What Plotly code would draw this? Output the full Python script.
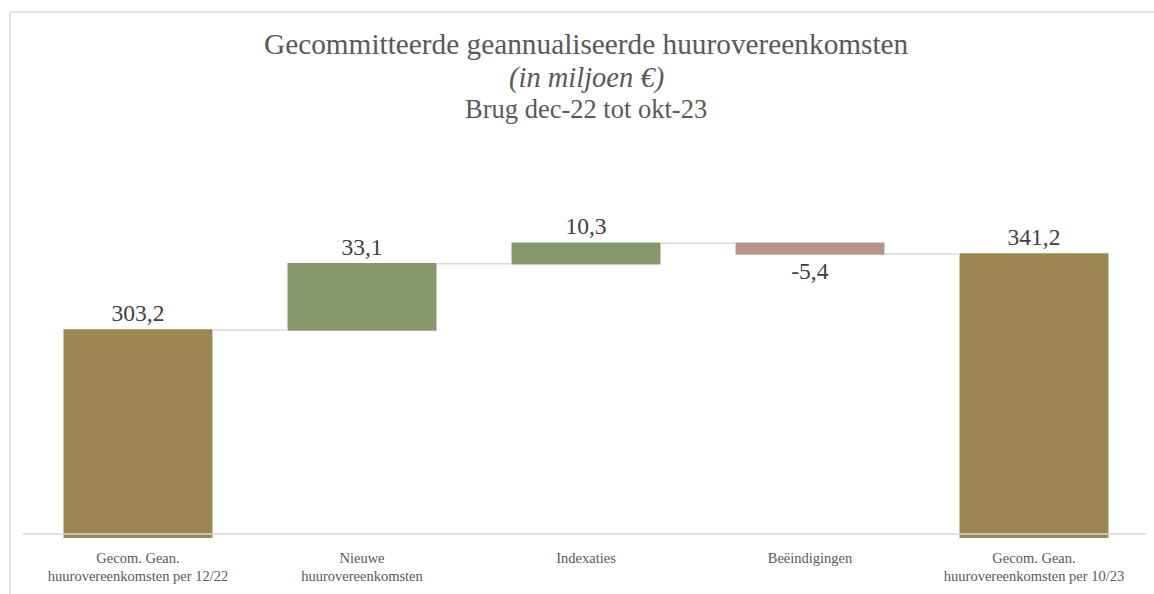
import plotly.graph_objects as go

categories = [
    "Gecom. Gean.<br>huurovereenkomsten per 12/22",
    "Nieuwe<br>huurovereenkomsten",
    "Indexaties",
    "Beëindigingen",
    "Gecom. Gean.<br>huurovereenkomsten per 10/23",
]
measures = ["absolute", "relative", "relative", "relative", "total"]
values = [303.2, 33.1, 10.3, -5.4, 0]

total_value = round(sum(values), 1)
labels = [f"{v:.1f}".replace(".", ",") for v in values[:-1]] + [f"{total_value:.1f}".replace(".", ",")]

TOTAL_C = "#9C8753"
INC_C = "#87986C"
DEC_C = "#B79487"
GRID_C = "#D9D9D9"
SERIF = "Liberation Serif"

fig = go.Figure(go.Waterfall(
    x=categories,
    y=values,
    measure=measures,
    text=labels,
    textposition="outside",
    textfont=dict(family=SERIF, size=23.5, color="#404040"),
    totals=dict(marker=dict(color=TOTAL_C, line=dict(width=0))),
    increasing=dict(marker=dict(color=INC_C, line=dict(width=0))),
    decreasing=dict(marker=dict(color=DEC_C, line=dict(width=0))),
    connector=dict(mode="between", line=dict(color=GRID_C, width=1.5)),
    cliponaxis=False,
    showlegend=False,
))

y_min, y_max = 199.2, 393.2

def py(page_y):
    return (538 - page_y) / 388

BORDER_X = -0.0143
BORDER_TOP = py(12)

fig.update_layout(
    width=1154, height=594,
    margin=dict(l=26, r=8, t=150, b=56),
    paper_bgcolor="white", plot_bgcolor="white",
    waterfallgap=0.335,
    font=dict(family=SERIF, color="#595959"),
    xaxis=dict(showgrid=False, showline=False, zeroline=False, ticks="",
               ticklabelstandoff=9,
               tickfont=dict(family=SERIF, size=14.5, color="#595959")),
    yaxis=dict(range=[y_min, y_max], visible=False, showgrid=False, zeroline=False),
    shapes=[
        dict(type="line", xref="paper", yref="y", x0=-0.003, x1=1.0,
             y0=y_min + 2, y1=y_min + 2, line=dict(color=GRID_C, width=1.5), layer="above"),
        dict(type="line", xref="paper", yref="paper", x0=BORDER_X, x1=1.02,
             y0=BORDER_TOP, y1=BORDER_TOP, line=dict(color=GRID_C, width=1.5), layer="below"),
        dict(type="line", xref="paper", yref="paper", x0=BORDER_X, x1=BORDER_X,
             y0=-0.2, y1=BORDER_TOP, line=dict(color=GRID_C, width=1.5), layer="below"),
    ],
    annotations=[
        dict(text="Gecommitteerde geannualiseerde huurovereenkomsten", xref="paper", yref="paper",
             x=0.5, y=py(44), xanchor="center", yanchor="middle", showarrow=False,
             font=dict(family=SERIF, size=29.3, color="#595959")),
        dict(text="<i>(in miljoen €)</i>", xref="paper", yref="paper",
             x=0.5, y=py(78), xanchor="center", yanchor="middle", showarrow=False,
             font=dict(family=SERIF, size=28.5, color="#595959")),
        dict(text="Brug dec-22 tot okt-23", xref="paper", yref="paper",
             x=0.5, y=py(109), xanchor="center", yanchor="middle", showarrow=False,
             font=dict(family=SERIF, size=26.5, color="#595959")),
    ],
)

fig.write_html(
    "out.html",
    config={"displayModeBar": False},
    post_script="document.body.style.margin='0';document.body.style.overflow='hidden';",
)
